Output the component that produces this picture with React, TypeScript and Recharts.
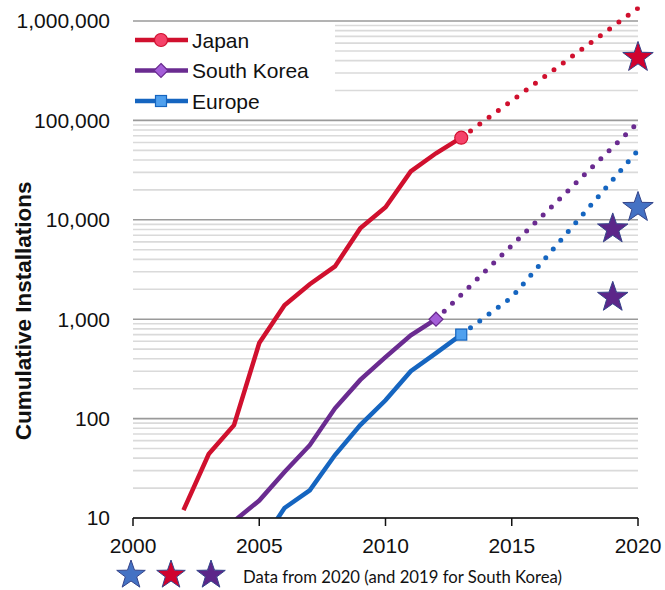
import { ComposedChart, Line, Scatter, XAxis, YAxis, CartesianGrid } from 'recharts';

// cumulative installations
const japanYears = [2002, 2003, 2004, 2005, 2006, 2007, 2008, 2009, 2010, 2011, 2012, 2013];
const japanValues = [12, 44, 86, 575, 1380, 2250, 3400, 8200, 13400, 30700, 46700, 67000];
const koreaYears = [2004, 2005, 2006, 2007, 2008, 2009, 2010, 2011, 2012];
const koreaValues = [9.3, 15, 29, 54, 127, 245, 415, 690, 1000];
const europeYears = [2005, 2006, 2007, 2008, 2009, 2010, 2011, 2012, 2013];
const europeValues = [5.2, 12.6, 19, 43, 86, 153, 300, 455, 700];

// dotted projections
const japanProjYears = [2013, 2020];
const japanProjValues = [67000, 1350000];
const koreaProjYears = [2012, 2020];
const koreaProjValues = [1000, 95000];
const europeProjYears = [2013, 2015, 2020];
const europeProjValues = [700, 1660, 50000];

// actual figures (2020, 2019 for South Korea)
const starYears = [2020, 2020, 2019, 2019];
const starValues = [430000, 13300, 8100, 1660];
const starCountries = ['Japan', 'Europe', 'South Korea', 'South Korea'];

const xTicks = [2000, 2005, 2010, 2015, 2020];
const yTicks = [10, 100, 1000, 10000, 100000, 1000000];
const minorTicks = yTicks.slice(0, -1).flatMap((d) => [2, 3, 4, 5, 6, 7, 8, 9].map((m) => m * d));

const toPoints = (years: number[], values: number[]) => years.map((year, i) => ({ year, value: values[i] }));

const japanData = toPoints(japanYears, japanValues);
const koreaData = toPoints(koreaYears, koreaValues);
const europeData = toPoints(europeYears, europeValues);
const japanProj = toPoints(japanProjYears, japanProjValues);
const koreaProj = toPoints(koreaProjYears, koreaProjValues);
const europeProj = toPoints(europeProjYears, europeProjValues);
const starData = starYears.map((year, i) => ({ year, value: starValues[i], country: starCountries[i] }));

const JAPAN = '#d0102e';
const KOREA = '#6a2b90';
const EUROPE = '#1565c0';
const starColors: Record<string, string> = { Japan: '#d0022e', Europe: '#4472c4', 'South Korea': '#5c2689' };

const FONT = '"Liberation Sans", Arial, sans-serif';
const DOMAIN: [number, number] = [10, 1400000];

function starPath(cx: number, cy: number, r: number) {
  const inner = r * 0.4;
  let d = '';
  for (let i = 0; i < 10; i++) {
    const a = -Math.PI / 2 + (i * Math.PI) / 5;
    const rr = i % 2 === 0 ? r : inner;
    d += (i === 0 ? 'M' : 'L') + (cx + rr * Math.cos(a)).toFixed(2) + ',' + (cy + rr * Math.sin(a)).toFixed(2);
  }
  return d + 'Z';
}

function Marker({ kind, cx, cy }: { kind: string; cx: number; cy: number }) {
  if (kind === 'Japan') return <circle cx={cx} cy={cy} r={6.5} fill="#f5436a" stroke={JAPAN} strokeWidth={1.2} />;
  if (kind === 'South Korea')
    return (
      <path
        d={`M${cx},${cy - 7}L${cx + 7},${cy}L${cx},${cy + 7}L${cx - 7},${cy}Z`}
        fill="#a45ed8"
        stroke={KOREA}
        strokeWidth={1.2}
      />
    );
  return <rect x={cx - 5.5} y={cy - 5.5} width={11} height={11} fill="#4fa0ee" stroke={EUROPE} strokeWidth={1.2} />;
}

const firstDot = (kind: string) => (p: any) =>
  p.index === 0 ? (
    <g key={`m${p.index}`}>
      <Marker kind={kind} cx={p.cx} cy={p.cy} />
    </g>
  ) : (
    <g key={`m${p.index}`} />
  );

const renderStar = (p: any) => (
  <path
    d={starPath(p.cx, p.cy, 16)}
    fill={starColors[p.payload.country]}
    stroke="#34448a"
    strokeWidth={1}
  />
);

const legendItems = [
  { name: 'Japan', color: JAPAN },
  { name: 'South Korea', color: KOREA },
  { name: 'Europe', color: EUROPE },
];

function YLabel({ viewBox }: any) {
  const x = viewBox.x + 24;
  const y = viewBox.y + viewBox.height * 0.595;
  return (
    <text
      x={x}
      y={y}
      transform={`rotate(-90, ${x}, ${y})`}
      textAnchor="middle"
      dominantBaseline="central"
      fontFamily={FONT}
      fontWeight="bold"
      fontSize={22.5}
      fill="#111"
    >
      Cumulative Installations
    </text>
  );
}

export default function App() {
  return (
    <div style={{ position: 'relative', width: 665, height: 590, fontFamily: FONT, background: '#fff' }}>
      <style>{'body{margin:0}'}</style>
      <ComposedChart width={665} height={590} margin={{ top: 6.5, right: 27, left: 0, bottom: 0 }}>
        <CartesianGrid vertical={false} horizontalValues={minorTicks} stroke="#dadada" strokeWidth={1.6} />
        <CartesianGrid vertical={false} horizontalValues={yTicks} stroke="#9a9a9a" strokeWidth={1.6} />
        <XAxis
          type="number"
          dataKey="year"
          domain={[2000, 2020]}
          ticks={xTicks}
          interval={0}
          height={72}
          tickSize={8}
          tickMargin={12}
          axisLine={{ stroke: '#111', strokeWidth: 1.5 }}
          tickLine={{ stroke: '#111', strokeWidth: 1.5 }}
          tick={{ fontSize: 21, fill: '#111', fontFamily: FONT }}
        />
        <YAxis
          scale="log"
          domain={DOMAIN}
          allowDataOverflow
          ticks={yTicks}
          interval={0}
          width={133}
          axisLine={false}
          tickLine={false}
          tickSize={0}
          tickMargin={23}
          tick={{ fontSize: 21, fill: '#111', fontFamily: FONT }}
          tickFormatter={(v: number) => v.toLocaleString('en-US')}
          label={{ content: YLabel }}
        />
        <YAxis yAxisId="free" dataKey="value" scale="log" domain={DOMAIN} hide />

        <Line data={japanData} dataKey="value" stroke={JAPAN} strokeWidth={4.5} dot={false} isAnimationActive={false} />
        <Line data={koreaData} dataKey="value" stroke={KOREA} strokeWidth={4.5} dot={false} isAnimationActive={false} />
        <Line data={europeData} dataKey="value" stroke={EUROPE} strokeWidth={4.5} dot={false} isAnimationActive={false} />

        <Line
          data={japanProj}
          dataKey="value"
          stroke={JAPAN}
          strokeWidth={5}
          strokeDasharray="0 11.5"
          strokeLinecap="round"
          dot={firstDot('Japan')}
          isAnimationActive={false}
        />
        <Line
          data={koreaProj}
          dataKey="value"
          stroke={KOREA}
          strokeWidth={5}
          strokeDasharray="0 11.5"
          strokeLinecap="round"
          dot={firstDot('South Korea')}
          isAnimationActive={false}
        />
        <Line
          data={europeProj}
          dataKey="value"
          stroke={EUROPE}
          strokeWidth={5}
          strokeDasharray="0 11.5"
          strokeLinecap="round"
          dot={firstDot('Europe')}
          isAnimationActive={false}
        />

        <Scatter data={starData} yAxisId="free" dataKey="value" shape={renderStar} isAnimationActive={false} />
      </ComposedChart>

      {/* legend box, top left of the plot */}
      <svg width={202} height={92} style={{ position: 'absolute', left: 133, top: 24 }}>
        <rect x={0} y={0} width={202} height={92} fill="#fff" />
        {legendItems.map((d, i) => {
          const y = 16 + i * 30.5;
          return (
            <g key={d.name}>
              <line x1={2} x2={55} y1={y} y2={y} stroke={d.color} strokeWidth={4.5} />
              <Marker kind={d.name} cx={28} cy={y} />
              <text x={59} y={y} dominantBaseline="central" fontSize={21} fontFamily={FONT} fill="#111">
                {d.name}
              </text>
            </g>
          );
        })}
      </svg>

      {/* star note under the axis */}
      <svg width={665} height={36} style={{ position: 'absolute', left: 0, top: 556 }}>
        {['Europe', 'Japan', 'South Korea'].map((c, i) => (
          <path key={c} d={starPath(131 + i * 40, 19, 15)} fill={starColors[c]} stroke="#34448a" strokeWidth={1} />
        ))}
        <text
          x={243}
          y={20}
          dominantBaseline="central"
          fontSize={17}
          fontFamily="Lato, 'Open Sans', sans-serif"
          fill="#111"
          textLength={319}
          lengthAdjust="spacingAndGlyphs"
        >
          Data from 2020 (and 2019 for South Korea)
        </text>
      </svg>
    </div>
  );
}
